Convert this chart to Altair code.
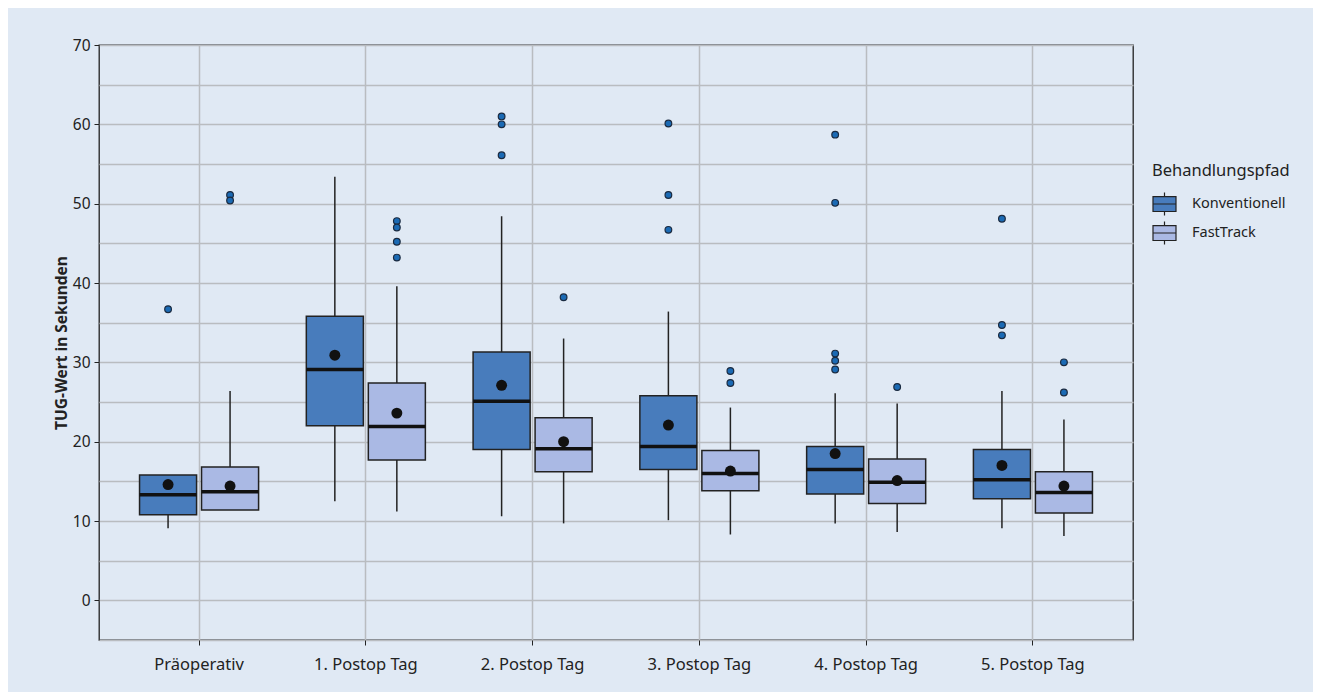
import altair as alt
import pandas as pd

categories = ["Präoperativ", "1. Postop Tag", "2. Postop Tag", "3. Postop Tag", "4. Postop Tag", "5. Postop Tag"]
groups = ["Konventionell", "FastTrack"]

# Konventionell
konv_lo   = [9.1, 12.5, 10.6, 10.1, 9.7, 9.1]
konv_q1   = [10.8, 22.0, 19.0, 16.5, 13.4, 12.8]
konv_med  = [13.3, 29.1, 25.1, 19.4, 16.5, 15.2]
konv_q3   = [15.8, 35.8, 31.3, 25.8, 19.4, 19.0]
konv_hi   = [15.8, 53.4, 48.4, 36.4, 26.1, 26.4]
konv_mean = [14.6, 30.9, 27.1, 22.1, 18.5, 17.0]
konv_out  = [[36.7], [], [61.0, 60.0, 56.1], [60.1, 51.1, 46.7], [58.7, 50.1, 31.1, 30.2, 29.1], [48.1, 34.7, 33.4]]

# FastTrack
ft_lo   = [11.4, 11.2, 9.7, 8.3, 8.6, 8.1]
ft_q1   = [11.4, 17.7, 16.2, 13.8, 12.2, 11.0]
ft_med  = [13.7, 21.9, 19.1, 16.0, 14.9, 13.6]
ft_q3   = [16.8, 27.4, 23.0, 18.9, 17.8, 16.2]
ft_hi   = [26.4, 39.6, 33.0, 24.3, 24.8, 22.8]
ft_mean = [14.4, 23.6, 20.0, 16.3, 15.1, 14.4]
ft_out  = [[51.1, 50.4], [47.8, 47.0, 45.2, 43.2], [38.2], [28.9, 27.4], [26.9], [30.0, 26.2]]

grid_values = [-5, 0, 5, 10, 15, 20, 25, 30, 35, 40, 45, 50, 55, 60, 65, 70]
label_values = [0, 10, 20, 30, 40, 50, 60, 70]

rows = []
outs = []
for g, lo, q1, med, q3, hi, mn, ol in [
    ("Konventionell", konv_lo, konv_q1, konv_med, konv_q3, konv_hi, konv_mean, konv_out),
    ("FastTrack", ft_lo, ft_q1, ft_med, ft_q3, ft_hi, ft_mean, ft_out),
]:
    for i, c in enumerate(categories):
        rows.append(dict(cat=c, grp=g, lo=lo[i], q1=q1[i], med=med[i], q3=q3[i], hi=hi[i], mean=mn[i]))
        for v in ol[i]:
            outs.append(dict(cat=c, grp=g, val=v))

df = pd.DataFrame(rows)
dfo = pd.DataFrame(outs)

FONT = "Noto Sans"
BG = "#e0e9f4"
colors = ["#487cbc", "#aab9e4"]

x_enc = alt.X("cat:N", sort=categories,
              scale=alt.Scale(domain=categories, paddingInner=0, paddingOuter=0.1),
              axis=alt.Axis(title=None, labelAngle=0, labelFont=FONT, labelFontSize=16.5,
                            labelColor="#222", labelPadding=11, tickSize=5, tickColor="#222",
                            domain=False, grid=True, gridColor="#b9bcc0", gridWidth=1.5,
                            bandPosition=0.5))


def xo():
    return alt.XOffset("grp:N", sort=groups,
                       scale=alt.Scale(domain=groups, paddingInner=0.08, paddingOuter=0.385))


y_scale = alt.Scale(domain=[-5, 70], nice=False, zero=False)
grid_axis = alt.Axis(title=None, values=grid_values, labels=False, ticks=False, domain=False,
                     grid=True, gridColor="#b9bcc0", gridWidth=1.5, orient="left")
label_axis = alt.Axis(title="TUG-Wert in Sekunden", values=label_values, orient="left",
                      labelFont=FONT, labelFontSize=15.5, labelColor="#222", labelPadding=4,
                      tickSize=5, tickColor="#222", domain=False, grid=False,
                      titleFont=FONT, titleFontSize=15.5, titleFontWeight="bold", titleColor="#222",
                      titlePadding=3)

base = alt.Chart(df)

whisk = base.mark_rule(color="#222", strokeWidth=1.5).encode(
    x=x_enc, xOffset=xo(),
    y=alt.Y("lo:Q", scale=y_scale, axis=grid_axis), y2="hi:Q")

box = base.mark_bar(stroke="#222", strokeWidth=1.5, opacity=1).encode(
    x=x_enc, xOffset=xo(),
    y=alt.Y("q1:Q", scale=y_scale, axis=None), y2="q3:Q",
    color=alt.Color("grp:N", sort=groups,
                    scale=alt.Scale(domain=groups, range=colors),
                    legend=alt.Legend(title="Behandlungspfad", orient="none",
                                      legendX=1053, legendY=118,
                                      symbolType="M-1,-0.65H1V0.65H-1Z M-1,0H1 M0,-0.65V-1 M0,0.65V1",
                                      symbolSize=529, symbolStrokeColor="#222", symbolStrokeWidth=1.2,
                                      symbolOpacity=1,
                                      labelFont=FONT, labelFontSize=14.5, labelColor="#222",
                                      labelOffset=15, rowPadding=0,
                                      titleFont=FONT, titleFontSize=16.5, titleFontWeight="normal",
                                      titleColor="#222", titlePadding=12)))

med = base.mark_tick(color="#111", thickness=3.5, size=57, opacity=1).encode(
    x=x_enc, xOffset=xo(), y=alt.Y("med:Q", scale=y_scale, axis=None))

mean = base.mark_circle(color="#111", size=120, opacity=1).encode(
    x=x_enc, xOffset=xo(), y=alt.Y("mean:Q", scale=y_scale, axis=label_axis))

outl = alt.Chart(dfo).mark_point(filled=True, fill="#1b6ab4", stroke="#1a2a40", strokeWidth=1.2,
                                 size=45, opacity=1, shape="circle").encode(
    x=x_enc, xOffset=xo(), y=alt.Y("val:Q", scale=y_scale, axis=None))

chart = alt.layer(whisk, box, med, mean, outl).resolve_axis(y="independent").properties(
    width=1034, height=595,
    autosize=alt.AutoSizeParams(type="none"),
    padding={"left": 91, "top": 37, "right": 180, "bottom": 52},
    background=BG,
).configure_view(stroke="#222", strokeWidth=1.3, fill=BG)

chart.save("out.html", embed_options={"renderer": "svg", "actions": False})
